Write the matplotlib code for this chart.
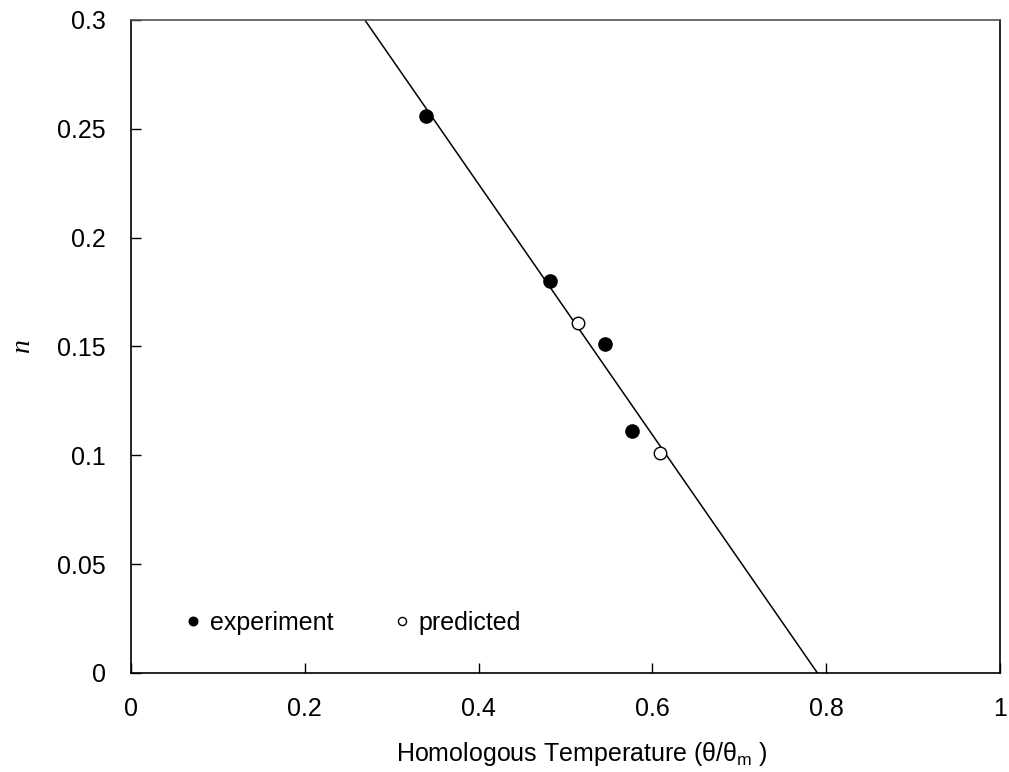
import matplotlib
matplotlib.use("Agg")
import matplotlib.pyplot as plt
import numpy as np

plt.rcParams['font.family'] = ['Liberation Sans', 'DejaVu Sans']
plt.rcParams['mathtext.fontset'] = 'custom'
plt.rcParams['mathtext.rm'] = 'Liberation Sans'

# experiment points
exp_x = [0.340, 0.482, 0.545, 0.577]
exp_n = [0.256, 0.180, 0.151, 0.111]

# predicted points
pred_x = [0.514, 0.609]
pred_n = [0.161, 0.101]

# fitted line n = a + b*x
fit_a = 0.455
fit_b = -0.576

x_ticks = [0, 0.2, 0.4, 0.6, 0.8, 1]
x_tick_labels = ["0", "0.2", "0.4", "0.6", "0.8", "1"]
y_ticks = [0, 0.05, 0.1, 0.15, 0.2, 0.25, 0.3]
y_tick_labels = ["0", "0.05", "0.1", "0.15", "0.2", "0.25", "0.3"]

fig = plt.figure(figsize=(10.09, 7.72), dpi=100)
ax = fig.add_axes([131 / 1009, 1 - 673 / 772, 869 / 1009, 653 / 772])

xs = np.array([0, 1])
ax.plot(xs, fit_a + fit_b * xs, color="black", lw=1.1, zorder=2)

ax.plot(exp_x, exp_n, "o", color="black", ms=9.5, zorder=3, label="experiment")
ax.plot(pred_x, pred_n, "o", mfc="white", mec="black", mew=1.0, ms=9, zorder=3,
        label="predicted")

ax.set_xlim(0, 1)
ax.set_ylim(0, 0.3)
ax.set_xticks(x_ticks)
ax.set_xticklabels(x_tick_labels)
ax.set_yticks(y_ticks)
ax.set_yticklabels(y_tick_labels)
ax.tick_params(direction="in", length=7, width=1, labelsize=18,
               top=False, right=False)
ax.tick_params(axis="x", pad=17)
ax.tick_params(axis="y", pad=18)

for s in ax.spines.values():
    s.set_linewidth(1.2)
ax.spines["top"].set_color("#555555")

ax.set_xlabel("Homologous Temperature (θ/θ$_{\\rm m}$ )", fontsize=18)
ax.xaxis.set_label_coords((582 - 131) / 869, -(740 - 673) / 653, transform=ax.transAxes)
ax.xaxis.label.set_va("top")
ax.set_ylabel("n", fontsize=20, family=["Liberation Serif"], style="italic")
ax.yaxis.set_label_coords(-(131 - 35) / 869, 0.5)

leg = ax.legend(loc="lower left", bbox_to_anchor=(0.04, 0.024), ncol=2, frameon=False,
                fontsize=18, markerscale=0.65, handlelength=0.4, handletextpad=0.45,
                columnspacing=2.55)

fig.savefig("out.png", dpi=100)
